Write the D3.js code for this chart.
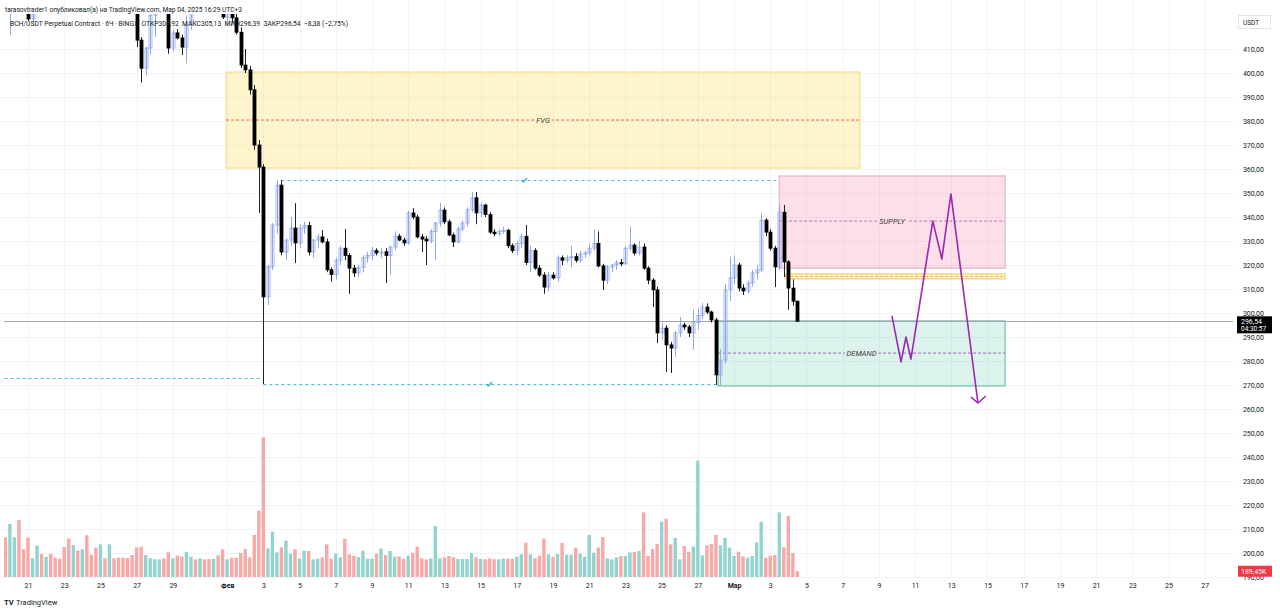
<!DOCTYPE html>
<html>
<head>
<meta charset="utf-8">
<script src="https://cdn.jsdelivr.net/npm/d3@7"></script>
<style>
  body { margin: 0; background: #fff; }
  svg { display: block; font-family: Roboto, "Noto Sans", sans-serif; }
</style>
</head>
<body>
<svg id="chart" width="1280" height="611"></svg>
<script>
// 6h bars, first bar Jan 19 21:00 (UTC+3 chart time)
const firstBar = Date.UTC(2025, 0, 19, 21);
const barMs = 6 * 3600 * 1000;

const opens = [448,440,446,455,446,435,422.5,438,450,443,452,446,442,438,433,430,439,434,444,436,432,429,438,435,442,438,435,432,430,427,413.7,402,410.4,424,434,440,431,410.4,416.7,414.6,410.8,420,431,428,436,431,428,433,428,423.3,427,423,417,403.3,401.3,393,370,360.8,306.7,319.2,336.7,353.3,325.4,330.4,335.4,329.2,335.4,336.5,325.4,330.4,331.7,329.6,318,316,322,327,324,318.7,316.7,319,323,324,326,325,325.5,324,327.5,332,330.4,329.2,341.7,340,331.7,330.8,330,334,337.5,342.9,338,332.5,329.6,335,337.5,343,348,341.7,345,341,333.7,333,334,334.5,328,326,329,332,321,326,318.7,315.8,310.8,315.8,314.6,323,322,323,323.5,322,324.6,325,327,329,319.6,313.7,319.2,320,321,320.5,327,328.3,325,327.5,318.7,313.7,309.6,291.7,293.7,286.7,285.4,291.7,295,294.2,291.7,296,299,302.5,300.4,297.1,274.2,280.4,309.6,314.6,320,310.4,309.2,312.5,316.7,318,338.7,333.7,327,319.2,342,321.3,310.4,304.92];
const highs = [452,450,458,458,448,438,440,452,453,455,454,449,445,441,436,441,441,446,447,439,435,440,440,444,444,440,437,434,432,429,415,411,425,436,442,442,433,418,418.3,416,424,433,434,438,438,433,435,435,430,430,429,425,419,410,403,395,372,362,320,337.5,355.4,355.4,331,340,345.8,337,338,338,331,333,334.6,331,319,323,328,335,325,320,320,324,325.5,327.5,327,327,327,328,334,333,331.5,342.5,343.7,341,333,332,335,338,346,344,339,333.5,336,338.5,344,350.4,350.4,346,345.5,342,335,335,336,335,329,330,333,336.7,328,327,320,317,317,317,324,324,324,328,325,326,326,329,335,334,320.5,320,320.5,322,322.5,328,336,329,330,329,319.5,314.5,311,296,295,288,292.5,298.3,296,295,301.3,302,304.2,304,301,298,285,312,323.5,324,321,312,313.5,318,320,341.7,339.5,335,328,345,345,322,314,305.13];
const lows = [436,415.8,440,443,432,421.5,421,436,440,441,444,440,436,430,427,428,432,432,433,430,427,428,433,434,436,433,430,428,426,410.8,396,399,408,415,431,428,408,409,414,407.5,404,418,426,427,429,426,426.5,426,422.5,420,421,416,402,400,391,368,341.7,270.4,303.3,318,333,324,322,328,320.8,327,333,324,323,327,329,317,313,314,320,322,308,315,315,317,321,322,324,323,312.5,316,326,330,328,328.5,339,331,325.4,320,329,322,336,337,332,327.5,329,334,336,342,337,340,340,333,332,332,333,327,325,324,327,320,317,318,315,308,309,314,313,320,321,319,321,321,323,324,326,319,309.6,312,317,318,319.5,320,326,324,324,318,312,302.5,287.5,289,275.4,275,281.7,290,293,290,284.6,293,297.5,299.5,296,270,270,279,305,312,309,307.5,308,311,314,317,332,326,310.8,318,315,301.3,303,296.39];
const closes = [440,446,455,446,435,422.5,438,450,443,452,446,442,438,433,430,439,434,444,436,432,429,438,435,442,438,435,432,430,427,413.7,402,410.4,424,434,440,431,410.4,416.7,414.6,410.8,420,431,428,436,431,428,433,428,423.3,427,423,417,403.3,401.3,393,370,360.8,306.7,319.2,336.7,353.3,325.4,330.4,335.4,329.2,335.4,336.5,325.4,330.4,331.7,329.6,318,316,322,327,324,318.7,316.7,319,323,324,326,325,325.5,324,327.5,332,330.4,329.2,341.7,340,331.7,330.8,330,334,337.5,342.9,338,332.5,329.6,335,337.5,343,348,341.7,345,341,333.7,333,334,334.5,328,326,329,332,321,326,318.7,315.8,310.8,315.8,314.6,323,322,323,323.5,322,324.6,325,327,329,319.6,313.7,319.2,320,321,320.5,327,328.3,325,327.5,318.7,313.7,309.6,291.7,293.7,286.7,285.4,291.7,295,294.2,291.7,296,299,302.5,300.4,297.1,274.2,280.4,309.6,314.6,320,310.4,309.2,312.5,316.7,318,338.7,333.7,327,319.2,342,321.3,310.4,304.92,296.54];
// volume, thousands
const volumes = [1309,1749,1309,1881,913,1298,616,1034,759,671,759,638,605,990,1265,1056,869,913,1375,726,968,1078,616,1078,616,638,638,627,726,979,1001,726,616,583,583,616,814,616,704,671,825,671,583,616,583,594,594,715,913,583,638,638,792,924,649,1386,2189,4609,946,1496,814,979,1199,770,913,605,869,858,583,605,649,1078,605,770,649,1265,748,704,649,869,605,605,770,935,726,858,671,682,605,704,803,1001,616,583,616,1683,616,649,693,649,594,594,594,781,649,594,583,616,583,583,605,605,605,671,759,1133,748,616,704,1265,748,671,759,1122,737,737,968,770,671,1386,803,968,1320,616,583,649,693,693,814,825,858,2134,704,924,1089,1826,1925,1078,1287,583,1023,825,1001,3839,715,1045,1089,1386,1045,1287,968,693,836,682,638,693,1144,1826,638,704,726,2134,979,2013,792,189.45];

const priceTicks = d3.range(190, 411, 10);
const xTickDates = ["2025-01-21","2025-01-23","2025-01-25","2025-01-27","2025-01-29","2025-02-01","2025-02-03","2025-02-05","2025-02-07","2025-02-09","2025-02-11","2025-02-13","2025-02-15","2025-02-17","2025-02-19","2025-02-21","2025-02-23","2025-02-25","2025-02-27","2025-03-01","2025-03-03","2025-03-05","2025-03-07","2025-03-09","2025-03-11","2025-03-13","2025-03-15","2025-03-17","2025-03-19","2025-03-21","2025-03-23","2025-03-25","2025-03-27"];
const xTickLabels = ["21","23","25","27","29","Фев","3","5","7","9","11","13","15","17","19","21","23","25","27","Мар","3","5","7","9","11","13","15","17","19","21","23","25","27"];

// drawings: [name, from, to, top, bottom, mid]
const zones = [
  ["FVG",    "2025-02-01T01:40Z", "2025-03-08T02:00Z", 400.4, 360.4, 380.4],
  ["SUPPLY", "2025-03-03T14:50Z", "2025-03-16T02:20Z", 357.1, 318.7, 338.3],
  ["LEVEL",  "2025-03-03T22:50Z", "2025-03-16T02:20Z", 316.3, 314.2, 315.25],
  ["DEMAND", "2025-02-28T05:50Z", "2025-03-16T02:20Z", 296.7, 269.6, 283.3]
];
// dashed levels: [from, to, price]
const levels = [
  ["2025-01-19T20:00Z", "2025-02-02T22:40Z", 272.9],
  ["2025-02-04T03:00Z", "2025-03-03T13:30Z", 355.4],
  ["2025-02-03T03:00Z", "2025-02-28T03:00Z", 270.4]
];
const checks = [["2025-02-17T12:40Z", 355.2], ["2025-02-15T14:20Z", 270.2]];
// projected path
const pathTimes = ["2025-03-09T20:20Z","2025-03-10T08:20Z","2025-03-10T15:00Z","2025-03-10T21:30Z","2025-03-12T02:30Z","2025-03-12T14:30Z","2025-03-13T02:30Z","2025-03-14T14:20Z"];
const pathPrices = [298.8, 279.6, 290, 280.8, 338.3, 322.5, 349.6, 262.5];

const lastPrice = 296.54;

const zoneStyle = {
  FVG:    {fill: "rgba(255,225,100,0.33)", stroke: "#f4d883", mid: "#e06666", halo: "#fff3cb"},
  SUPPLY: {fill: "rgba(245,110,160,0.22)", stroke: "#e7a3c4", mid: "#b07bb8", halo: "#fbdee8"},
  LEVEL:  {fill: "rgba(255,225,100,0.33)", stroke: "#f2c25a", mid: "#f2b64c", halo: "#fff3cb"},
  DEMAND: {fill: "rgba(80,190,160,0.2)",   stroke: "#5fb39f", mid: "#9a6bb5", halo: "#dcf1ec"}
};

const svg = d3.select("#chart");

const x = d3.scaleUtc()
  .domain([new Date(Date.UTC(2025, 0, 20, 3)), new Date(Date.UTC(2025, 2, 4, 15))])
  .range([9.9, 797.4]);
const y = d3.scaleLinear().domain([200, 410]).range([553, 49]);
const yVol = d3.scaleLinear().domain([0, 4620]).range([577, 437]);

const bars = opens.map((o, i) => ({
  t: new Date(firstBar + i * barMs),
  o: o, h: highs[i], l: lows[i], c: closes[i], v: volumes[i]
}));
const tickDate = s => new Date(s + "T03:00Z");
const fmt = v => d3.format(".2f")(v).replace(".", ",");

svg.append("defs").append("clipPath").attr("id", "plotClip")
  .append("rect").attr("x", 4).attr("y", 14).attr("width", 1229).attr("height", 564);

// grid
const grid = svg.append("g");
grid.selectAll("line.v").data(xTickDates).join("line").attr("class", "v")
  .attr("x1", d => Math.round(x(tickDate(d))) + 0.5).attr("x2", d => Math.round(x(tickDate(d))) + 0.5)
  .attr("y1", 0).attr("y2", 578).attr("stroke", "#f2f3f6");
grid.selectAll("line.h").data(priceTicks).join("line").attr("class", "h")
  .attr("x1", 0).attr("x2", 1233)
  .attr("y1", d => Math.round(y(d)) + 0.5).attr("y2", d => Math.round(y(d)) + 0.5)
  .attr("stroke", "#f2f3f6");

const plot = svg.append("g").attr("clip-path", "url(#plotClip)");

// volume
plot.append("g").selectAll("rect").data(bars).join("rect")
  .attr("x", d => x(d.t) - 1.7).attr("width", 3.4)
  .attr("y", d => yVol(d.v)).attr("height", d => yVol(0) - yVol(d.v))
  .attr("fill", d => d.c >= d.o ? "#93d3cd" : "#f7a9a7");

// zones
const zg = plot.append("g");
zones.forEach(z => {
  const st = zoneStyle[z[0]];
  const x0 = x(new Date(z[1])), x1 = x(new Date(z[2]));
  zg.append("rect").attr("x", x0).attr("width", x1 - x0)
    .attr("y", y(z[3])).attr("height", y(z[4]) - y(z[3]))
    .attr("fill", st.fill).attr("stroke", st.stroke).attr("stroke-width", 1);
  zg.append("line").attr("x1", x0).attr("x2", x1).attr("y1", y(z[5])).attr("y2", y(z[5]))
    .attr("stroke", st.mid).attr("stroke-width", 1).attr("stroke-dasharray", "3,2");
  if (z[0] !== "LEVEL") {
    zg.append("text").attr("x", (x0 + x1) / 2).attr("y", y(z[5]) + 2.6)
      .attr("text-anchor", "middle").attr("font-size", 7.5).attr("font-style", "italic")
      .attr("fill", "#3a3a3a").attr("paint-order", "stroke")
      .attr("stroke", st.halo).attr("stroke-width", 4).text(z[0]);
  }
});

// dashed levels
plot.append("g").selectAll("line").data(levels).join("line")
  .attr("x1", d => x(new Date(d[0]))).attr("x2", d => x(new Date(d[1])))
  .attr("y1", d => Math.round(y(d[2])) + 0.5).attr("y2", d => Math.round(y(d[2])) + 0.5)
  .attr("stroke", "#55bcd6").attr("stroke-width", 1).attr("stroke-dasharray", "3,3");
plot.append("g").selectAll("path").data(checks).join("path")
  .attr("transform", d => `translate(${x(new Date(d[0]))},${y(d[1])})`)
  .attr("d", "M-2.5,-0.5 L-1,1.5 L3,-2.5").attr("fill", "none")
  .attr("stroke", "#3bb0cf").attr("stroke-width", 1.4);

// last price line
plot.append("line").attr("x1", 4).attr("x2", 1233)
  .attr("y1", Math.round(y(lastPrice)) + 0.5).attr("y2", Math.round(y(lastPrice)) + 0.5)
  .attr("stroke", "#a3a6ae").attr("stroke-width", 1);

// candles
const cg = plot.append("g");
cg.selectAll("line").data(bars).join("line")
  .attr("x1", d => Math.round(x(d.t)) + 0.5).attr("x2", d => Math.round(x(d.t)) + 0.5)
  .attr("y1", d => y(d.h)).attr("y2", d => y(d.l))
  .attr("stroke", d => d.c >= d.o ? "#8fa7ee" : "#222");
cg.selectAll("rect").data(bars).join("rect")
  .attr("x", d => Math.round(x(d.t)) - 1).attr("width", 3)
  .attr("y", d => y(Math.max(d.o, d.c))).attr("height", d => Math.max(1, Math.abs(y(d.o) - y(d.c))))
  .attr("fill", d => d.c >= d.o ? "none" : "#000")
  .attr("stroke", d => d.c >= d.o ? "#8fa7ee" : "#000").attr("stroke-width", 0.8);

// projected path
const pathLine = d3.line().x(d => x(new Date(d[0]))).y(d => y(d[1]));
const pts = pathTimes.map((t, i) => [t, pathPrices[i]]);
plot.append("path").attr("d", pathLine(pts)).attr("fill", "none")
  .attr("stroke", "#9c27b0").attr("stroke-width", 1.6).attr("stroke-linejoin", "round");
const tip = pts[pts.length - 1];
const tx = x(new Date(tip[0])), ty = y(tip[1]);
plot.append("path").attr("d", `M${tx - 7},${ty - 6} L${tx},${ty} L${tx + 8},${ty - 7}`)
  .attr("fill", "none").attr("stroke", "#9c27b0").attr("stroke-width", 1.6);

// price axis
const yAxis = svg.append("g").attr("transform", "translate(1264,0)")
  .call(d3.axisRight(y).tickValues(priceTicks).tickSize(0).tickFormat(fmt));
yAxis.select(".domain").remove();
yAxis.selectAll("text").attr("x", 0).attr("text-anchor", "end")
  .attr("font-size", 7).attr("font-family", "Roboto, sans-serif").attr("fill", "#131722");

// time axis
const xAxis = svg.append("g").attr("transform", "translate(0,580)")
  .call(d3.axisBottom(x).tickValues(xTickDates.map(tickDate)).tickSize(0)
    .tickFormat((d, i) => xTickLabels[i]));
xAxis.select(".domain").remove();
xAxis.selectAll("text").attr("y", 3).attr("font-size", 7)
  .attr("font-family", "Roboto, sans-serif").attr("fill", "#131722")
  .attr("font-weight", (d, i) => /^[А-я]/.test(xTickLabels[i]) ? "bold" : null);

// unit box
svg.append("rect").attr("x", 1238.5).attr("y", 15.5).attr("width", 32).attr("height", 13)
  .attr("fill", "#fff").attr("stroke", "#e3e5ea");
svg.append("text").attr("x", 1243).attr("y", 24.5).attr("font-size", 6.5).attr("fill", "#131722").text("USDT");

// last price label
svg.append("rect").attr("x", 1237).attr("y", y(lastPrice) - 5).attr("width", 35).attr("height", 17).attr("fill", "#000");
svg.append("text").attr("x", 1241).attr("y", y(lastPrice) + 2.5).attr("font-size", 7).attr("fill", "#fff").text(fmt(lastPrice));
svg.append("text").attr("x", 1241).attr("y", y(lastPrice) + 10).attr("font-size", 6.5).attr("fill", "#fff").text("04:30:57");

// volume label
const lastVol = volumes[volumes.length - 1];
svg.append("rect").attr("x", 1238).attr("y", yVol(lastVol) - 5.5).attr("width", 34).attr("height", 11).attr("fill", "#f23645");
svg.append("text").attr("x", 1241).attr("y", yVol(lastVol) + 2.5).attr("font-size", 7).attr("fill", "#fff")
  .text(d3.format(".2f")(lastVol).replace(".", ",") + "K");

// header
svg.append("text").attr("x", 5).attr("y", 12).attr("font-size", 7.5).attr("fill", "#131722")
  .attr("textLength", 237).attr("lengthAdjust", "spacingAndGlyphs")
  .text("tarasovtrader1 опубликовал(а) на TradingView.com, Мар 04, 2025 16:29 UTC+3");
svg.append("text").attr("x", 10).attr("y", 26).attr("font-size", 7.5).attr("fill", "#131722")
  .attr("textLength", 338).attr("lengthAdjust", "spacingAndGlyphs").attr("xml:space", "preserve")
  .text("BCH/USDT Perpetual Contract · 6Ч · BINGX  ОТКР304,92  МАКС305,13  МИН296,39  ЗАКР296,54  −8,38 (−2,75%)");

// footer logo
svg.append("text").attr("x", 4).attr("y", 604.5).attr("font-size", 7.5).attr("font-weight", "bold")
  .attr("fill", "#131722").text("TV");
svg.append("text").attr("x", 16).attr("y", 604.5).attr("font-size", 7.5).attr("fill", "#131722").text("TradingView");
</script>
</body>
</html>
